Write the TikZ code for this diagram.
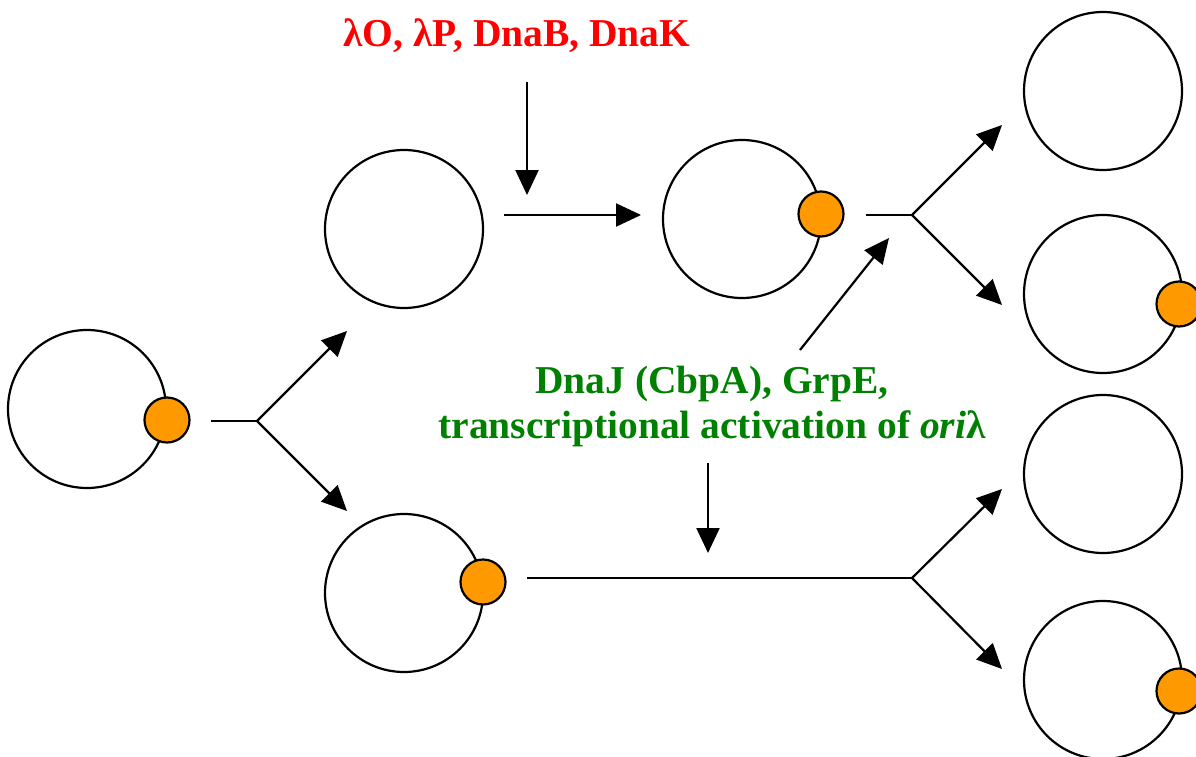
\documentclass[tikz,border=0pt]{standalone}
\usepackage{fontspec}
\setmainfont{Liberation Serif}
\usetikzlibrary{arrows.meta}
\definecolor{dotorange}{RGB}{255,153,0}
\definecolor{txtred}{RGB}{255,0,0}
\definecolor{txtgreen}{RGB}{0,128,0}
\begin{document}
\begin{tikzpicture}[x=1pt,y=-1pt,
  ring/.style={circle,draw=black,line width=2.2pt,minimum size=158pt,inner sep=0pt},
  ori/.style={circle,draw=black,fill=dotorange,line width=2.2pt,minimum size=45pt,inner sep=0pt},
  conn/.style={line width=2.2pt,-{Triangle[length=25pt,width=23pt]}},
  plainline/.style={line width=2.2pt},
  lbl/.style={font=\fontsize{39.5}{46}\selectfont\bfseries,inner sep=0pt,anchor=base}]
\useasboundingbox (0,0) rectangle (1196,757);
% plasmids
\node[ring] (ringA) at (87,409) {};
\node[ring] (ringB) at (404,229) {};
\node[ring] (ringC) at (404,593) {};
\node[ring] (ringD) at (742,219) {};
\node[ring] (ringE) at (1103,91) {};
\node[ring] (ringF) at (1103,294) {};
\node[ring] (ringG) at (1103,474) {};
\node[ring] (ringH) at (1103,680) {};
% origin complexes
\node[ori] (dotA) at (167,420) {};
\node[ori] (dotC) at (483,582) {};
\node[ori] (dotD) at (821,214) {};
\node[ori] (dotF) at (1179,304) {};
\node[ori] (dotH) at (1179,691) {};
% labels
\node[lbl,text=txtred] (redlbl) at (517,47) {λO, λP, DnaB, DnaK};
\node[lbl,text=txtgreen] (greenA) at (712,393) {DnaJ (CbpA), GrpE,};
\node[lbl,text=txtgreen] (greenB) at (712,438) {transcriptional activation of \textit{ori}λ};
% connector points
\coordinate (l0) at (211,421);
\coordinate (l1) at (257,421);
\coordinate (lup) at (347,331);
\coordinate (ldn) at (347,511);
\coordinate (rt) at (527,82);
\coordinate (rb) at (527,195);
\coordinate (h0) at (504,215);
\coordinate (h1) at (641,215);
\coordinate (m0) at (866,215);
\coordinate (m1) at (912,215);
\coordinate (mup) at (1002,125);
\coordinate (mdn) at (1002,305);
\coordinate (d0) at (800,350);
\coordinate (d1) at (889,238);
\coordinate (gt) at (708,463);
\coordinate (gb) at (708,553);
\coordinate (b0) at (527,578);
\coordinate (b1) at (912,578);
\coordinate (bup) at (1002,489);
\coordinate (bdn) at (1002,669);
% connectors
\draw[plainline] (l0) -- (l1);
\draw[conn] (l1) -- (lup);
\draw[conn] (l1) -- (ldn);
\draw[conn] (rt) -- (rb);
\draw[conn] (h0) -- (h1);
\draw[plainline] (m0) -- (m1);
\draw[conn] (m1) -- (mup);
\draw[conn] (m1) -- (mdn);
\draw[conn] (d0) -- (d1);
\draw[conn] (gt) -- (gb);
\draw[plainline] (b0) -- (b1);
\draw[conn] (b1) -- (bup);
\draw[conn] (b1) -- (bdn);
\end{tikzpicture}
\end{document}
